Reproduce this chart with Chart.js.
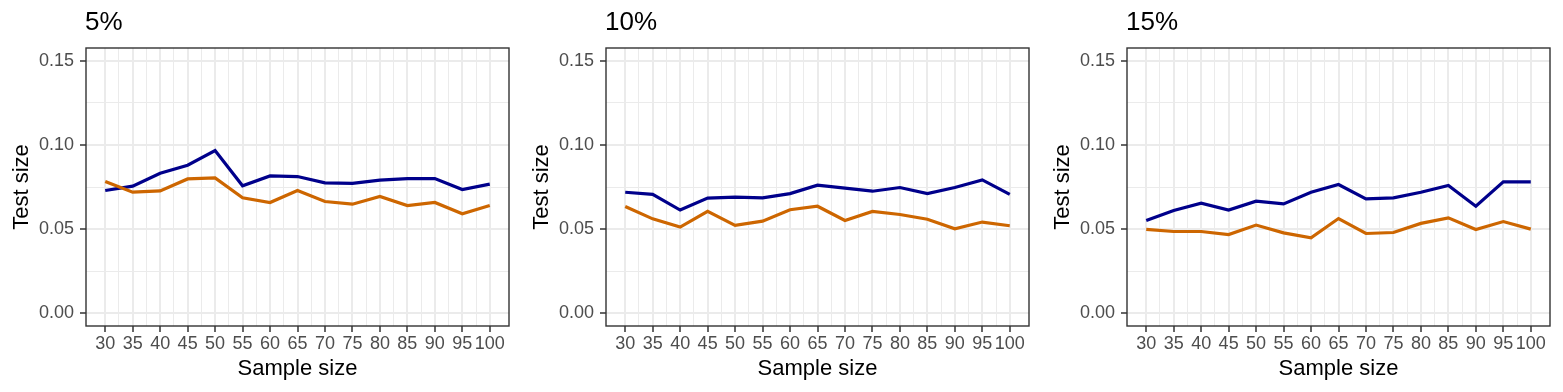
<!DOCTYPE html>
<html>
<head>
<meta charset="utf-8">
<script src="https://cdn.jsdelivr.net/npm/chart.js@4/dist/chart.umd.min.js"></script>
<style>
  html, body { margin: 0; padding: 0; background: #fff; }
  body { width: 1563px; height: 392px; position: relative; overflow: hidden; }
  .panel { position: absolute; top: 0; width: 521px; height: 392px; }
</style>
</head>
<body>
<div class="panel" style="left:0px"><canvas id="c1"></canvas></div>
<div class="panel" style="left:520px"><canvas id="c2"></canvas></div>
<div class="panel" style="left:1041px"><canvas id="c3"></canvas></div>
<script>
// ---- data ----
const sampleSizes = [30, 35, 40, 45, 50, 55, 60, 65, 70, 75, 80, 85, 90, 95, 100];
const panelTitles = ["5%", "10%", "15%"];
const yTicks = [0, 0.05, 0.10, 0.15];
const yMinorTicks = [0.025, 0.075, 0.125];
const xMinorTicks = [32.5, 37.5, 42.5, 47.5, 52.5, 57.5, 62.5, 67.5, 72.5, 77.5, 82.5, 87.5, 92.5, 97.5];

const blue5  = [0.0729, 0.0755, 0.0832, 0.0879, 0.0966, 0.0757, 0.0816, 0.0812, 0.0775, 0.0771, 0.0791, 0.0800, 0.0800, 0.0735, 0.0767];
const orange5 = [0.0783, 0.0719, 0.0727, 0.0798, 0.0804, 0.0686, 0.0658, 0.0729, 0.0664, 0.0648, 0.0694, 0.0640, 0.0658, 0.0591, 0.0640];
const blue10 = [0.0719, 0.0706, 0.0613, 0.0684, 0.0690, 0.0686, 0.0711, 0.0761, 0.0743, 0.0725, 0.0747, 0.0711, 0.0747, 0.0792, 0.0706];
const orange10 = [0.0634, 0.0561, 0.0512, 0.0605, 0.0522, 0.0547, 0.0615, 0.0636, 0.0551, 0.0605, 0.0587, 0.0559, 0.0502, 0.0542, 0.0520];
const blue15 = [0.0551, 0.0611, 0.0654, 0.0613, 0.0666, 0.0650, 0.0719, 0.0765, 0.0680, 0.0686, 0.0719, 0.0759, 0.0636, 0.0781, 0.0781];
const orange15 = [0.0498, 0.0486, 0.0486, 0.0468, 0.0524, 0.0478, 0.0449, 0.0563, 0.0474, 0.0480, 0.0534, 0.0567, 0.0498, 0.0545, 0.0500];

const blueSeries = [blue5, blue10, blue15];
const orangeSeries = [orange5, orange10, orange15];

const BLUE = "#00008B";
const ORANGE = "#CD6600";
const FONT = "'Liberation Sans', Arial, Helvetica, sans-serif";

const isMajorX = v => sampleSizes.includes(v);
const isMajorY = v => yTicks.some(t => Math.abs(t - v) < 1e-9);

const panelDecor = {
  id: 'panelDecor',
  afterDatasetsDraw(chart, args, opts) {
    const {ctx, chartArea: a} = chart;
    ctx.save();
    ctx.strokeStyle = '#333333';
    ctx.lineWidth = 1.4;
    ctx.strokeRect(a.left, a.top, a.right - a.left, a.bottom - a.top);
    ctx.restore();
  },
  afterDraw(chart, args, opts) {
    const {ctx, chartArea: a} = chart;
    ctx.save();
    ctx.fillStyle = '#000000';
    ctx.font = "26px " + FONT;
    ctx.textAlign = 'left';
    ctx.textBaseline = 'middle';
    ctx.fillText(opts.text, a.left - 1, 23);
    ctx.restore();
  }
};

function makeChart(id, idx) {
  const toPts = arr => sampleSizes.map((x, i) => ({x: x, y: arr[i]}));
  return new Chart(document.getElementById(id), {
    type: 'line',
    data: {
      datasets: [
        { data: toPts(orangeSeries[idx]), borderColor: ORANGE, borderWidth: 3.2, pointRadius: 0, tension: 0, fill: false },
        { data: toPts(blueSeries[idx]), borderColor: BLUE, borderWidth: 3.2, pointRadius: 0, tension: 0, fill: false }
      ]
    },
    options: {
      responsive: false,
      animation: false,
      devicePixelRatio: 1,
      layout: { padding: { top: 48, right: 12, bottom: 0, left: 0 } },
      plugins: {
        legend: { display: false },
        tooltip: { enabled: false },
        panelDecor: { text: panelTitles[idx] }
      },
      scales: {
        x: {
          type: 'linear',
          min: 26.5,
          max: 103.5,
          afterBuildTicks: s => {
            s.ticks = sampleSizes.concat(xMinorTicks).sort((a, b) => a - b).map(v => ({value: v}));
          },
          afterFit: s => { s.height = 66; },
          border: { display: false },
          grid: {
            color: '#ebebeb',
            lineWidth: c => (c.tick && isMajorX(c.tick.value)) ? 2 : 1,
            drawTicks: true,
            tickLength: 6,
            tickColor: c => (c.tick && isMajorX(c.tick.value)) ? '#333333' : 'rgba(0,0,0,0)',
            tickWidth: 1.5
          },
          ticks: {
            autoSkip: false,
            maxRotation: 0,
            minRotation: 0,
            padding: 1,
            color: '#4d4d4d',
            font: { family: FONT, size: 18 },
            callback: v => isMajorX(v) ? String(v) : ''
          },
          title: {
            display: true,
            text: 'Sample size',
            color: '#000000',
            font: { family: FONT, size: 22 },
            padding: { top: 0, bottom: 10 }
          }
        },
        y: {
          type: 'linear',
          min: -0.0075,
          max: 0.1575,
          afterBuildTicks: s => {
            s.ticks = yTicks.concat(yMinorTicks).sort((a, b) => a - b).map(v => ({value: v}));
          },
          afterFit: s => { s.width = 86; },
          border: { display: false },
          grid: {
            color: '#ebebeb',
            lineWidth: c => (c.tick && isMajorY(c.tick.value)) ? 2 : 1,
            drawTicks: true,
            tickLength: 6,
            tickColor: c => (c.tick && isMajorY(c.tick.value)) ? '#333333' : 'rgba(0,0,0,0)',
            tickWidth: 1.5
          },
          ticks: {
            autoSkip: false,
            padding: 6,
            color: '#4d4d4d',
            font: { family: FONT, size: 18 },
            callback: v => isMajorY(v) ? v.toFixed(2) : ''
          },
          title: {
            display: true,
            text: 'Test size',
            color: '#000000',
            font: { family: FONT, size: 22 },
            padding: { top: 9, bottom: 0 }
          }
        }
      }
    },
    plugins: [panelDecor]
  });
}

['c1', 'c2', 'c3'].forEach((id, i) => {
  const c = document.getElementById(id);
  c.width = 521; c.height = 392;
  c.style.width = '521px'; c.style.height = '392px';
  makeChart(id, i);
});
</script>
</body>
</html>
